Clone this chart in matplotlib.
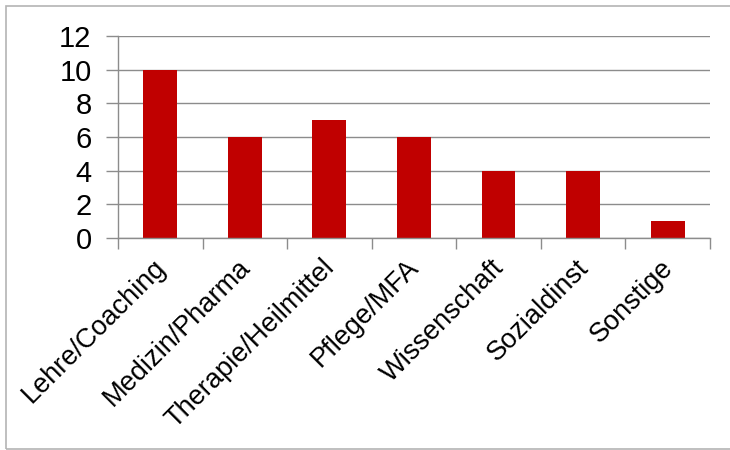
import numpy as np
from matplotlib import pyplot as plt
from matplotlib.patches import Rectangle
from matplotlib.transforms import ScaledTranslation

categories = ['Lehre/Coaching', 'Medizin/Pharma', 'Therapie/Heilmittel', 'Pflege/MFA',
              'Wissenschaft', 'Sozialdinst', 'Sonstige']
values = [10, 6, 7, 6, 4, 4, 1]
y_ticks = [0, 2, 4, 6, 8, 10, 12]

plt.rcParams['font.family'] = ['Liberation Sans', 'DejaVu Sans']

fig = plt.figure(figsize=(7.3, 4.5), dpi=100)
ax = fig.add_axes([0.1616, 0.4711, 0.8110, 0.4489])

x = np.arange(len(categories))
ax.bar(x, values, width=0.4, color='#C00000', zorder=3)

ax.set_xlim(-0.5, len(categories) - 0.5)
ax.set_ylim(0, 12)
ax.set_yticks(y_ticks)
ax.set_yticklabels([str(v) for v in y_ticks], fontsize=21)
ax.yaxis.grid(True, color='#8c8c8c', linewidth=1, zorder=0)

# category labels in the middle, tick marks between categories
ax.set_xticks(x)
ax.set_xticklabels(categories, rotation=45, ha='right', rotation_mode='anchor', fontsize=19.5)
ax.set_xticks(np.arange(-0.5, len(categories)), minor=True)
ax.tick_params(axis='x', which='major', length=0, pad=12)
ax.tick_params(axis='x', which='minor', length=8, color='#8c8c8c', width=1)
ax.tick_params(axis='y', length=9, color='#8c8c8c', width=1, pad=10)

# nudge rotated labels a little to the left
shift = ScaledTranslation(-0.08, 0, fig.dpi_scale_trans)
for lab in ax.get_xticklabels():
    lab.set_transform(lab.get_transform() + shift)

for s in ['top', 'right']:
    ax.spines[s].set_visible(False)
for s in ['left', 'bottom']:
    ax.spines[s].set_color('#8c8c8c')
    ax.spines[s].set_linewidth(1)
    ax.spines[s].set_zorder(4)

# outer chart border (right edge is cut off in the original)
fig.patches.append(Rectangle((6 / 730, 1.5 / 450), 730 / 730, 442.5 / 450, transform=fig.transFigure,
                             fill=False, edgecolor='#b4b4b4', linewidth=1.2))

fig.savefig('out.png', dpi=100)
